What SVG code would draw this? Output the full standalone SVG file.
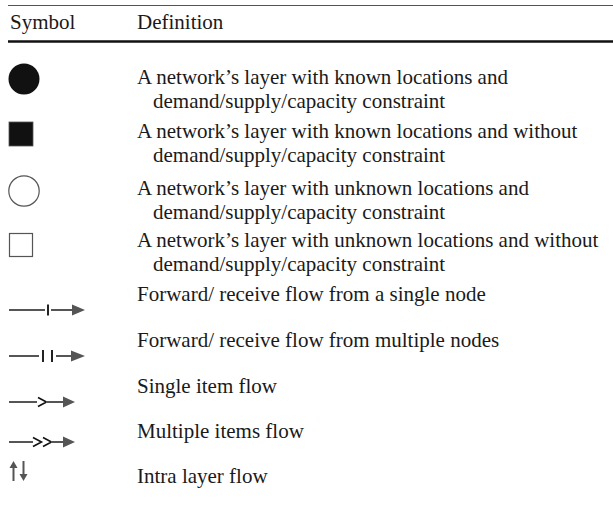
<svg xmlns="http://www.w3.org/2000/svg" width="613" height="506" viewBox="0 0 613 506">
<defs>
<style>
.t{font-family:"Liberation Serif","Times New Roman",serif;font-size:21px;fill:#1a1a1a}
.ln{stroke:#555;stroke-width:2;fill:none}
.tk{stroke:#222;stroke-width:2}
.hd{fill:#555}
.chev{stroke:#111;stroke-width:1.6;fill:none}
</style>
</defs>
<rect width="613" height="506" fill="#fff"/>
<g id="header">
<line x1="8" y1="5.5" x2="613" y2="5.5" stroke="#555" stroke-width="1.2"/>
<text class="t" x="10" y="29">Symbol</text>
<text class="t" x="137" y="29">Definition</text>
<line x1="8" y1="41.5" x2="613" y2="41.5" stroke="#111" stroke-width="2.5"/>
</g>
<g id="row1">
<circle cx="24" cy="79" r="15.5" fill="#111"/>
<text class="t" x="137" y="84">A network’s layer with known locations and</text>
<text class="t" x="153" y="107.5">demand/supply/capacity constraint</text>
</g>
<g id="row2">
<rect x="9" y="122" width="24" height="24" fill="#111" stroke="#555" stroke-width="0.8"/>
<text class="t" x="137" y="138">A network’s layer with known locations and without</text>
<text class="t" x="153" y="161.5">demand/supply/capacity constraint</text>
</g>
<g id="row3">
<circle cx="24" cy="191" r="15.2" fill="#fff" stroke="#555" stroke-width="1.2"/>
<text class="t" x="137" y="195">A network’s layer with unknown locations and</text>
<text class="t" x="153" y="218.5">demand/supply/capacity constraint</text>
</g>
<g id="row4">
<rect x="9.5" y="233.5" width="23" height="23" fill="#fff" stroke="#555" stroke-width="1.2"/>
<text class="t" x="137" y="247">A network’s layer with unknown locations and without</text>
<text class="t" x="153" y="270.5">demand/supply/capacity constraint</text>
</g>
<g id="row5">
<text class="t" x="137" y="301">Forward/ receive flow from a single node</text>
</g>
<g id="row6">
<text class="t" x="137" y="347">Forward/ receive flow from multiple nodes</text>
</g>
<g id="row7">
<text class="t" x="137" y="393">Single item flow</text>
</g>
<g id="row8">
<text class="t" x="137" y="438">Multiple items flow</text>
</g>
<g id="row9">
<text class="t" x="137" y="483">Intra layer flow</text>
</g>
<g id="connectors">
<!-- single node -->
<line class="ln" x1="9" y1="310" x2="45" y2="310"/>
<line class="tk" x1="48" y1="304.5" x2="48" y2="315.5"/>
<line class="ln" x1="51" y1="310" x2="73" y2="310"/>
<polygon class="hd" points="72,304.5 85,310 72,315.5"/>
<!-- multiple nodes -->
<line class="ln" x1="9" y1="356" x2="39" y2="356"/>
<line class="tk" x1="43" y1="350" x2="43" y2="362"/>
<line class="tk" x1="52" y1="350" x2="52" y2="362"/>
<line class="ln" x1="56" y1="356" x2="72" y2="356"/>
<polygon class="hd" points="71,350.5 85,356 71,361.5"/>
<!-- single item -->
<line class="ln" x1="9" y1="402" x2="37" y2="402"/>
<polyline class="chev" points="38,397.5 46.5,402 38,406.5"/>
<line class="ln" x1="46" y1="402" x2="64" y2="402"/>
<polygon class="hd" points="63,396.5 75,402 63,407.5"/>
<!-- multiple items -->
<line class="ln" x1="9" y1="442" x2="33" y2="442"/>
<polyline class="chev" points="33,437.5 41.5,442 33,446.5"/>
<polyline class="chev" points="43,437.5 51.5,442 43,446.5"/>
<line class="ln" x1="51" y1="442" x2="64" y2="442"/>
<polygon class="hd" points="63,436.5 75,442 63,447.5"/>
<!-- intra layer -->
<line class="ln" x1="13.5" y1="481" x2="13.5" y2="466" stroke-width="1.6"/>
<polygon class="hd" points="9.5,468 13.5,461 17.5,468"/>
<line class="ln" x1="23.5" y1="461" x2="23.5" y2="476" stroke-width="1.6"/>
<polygon class="hd" points="19.5,474 23.5,481 27.5,474"/>
</g>
</svg>
